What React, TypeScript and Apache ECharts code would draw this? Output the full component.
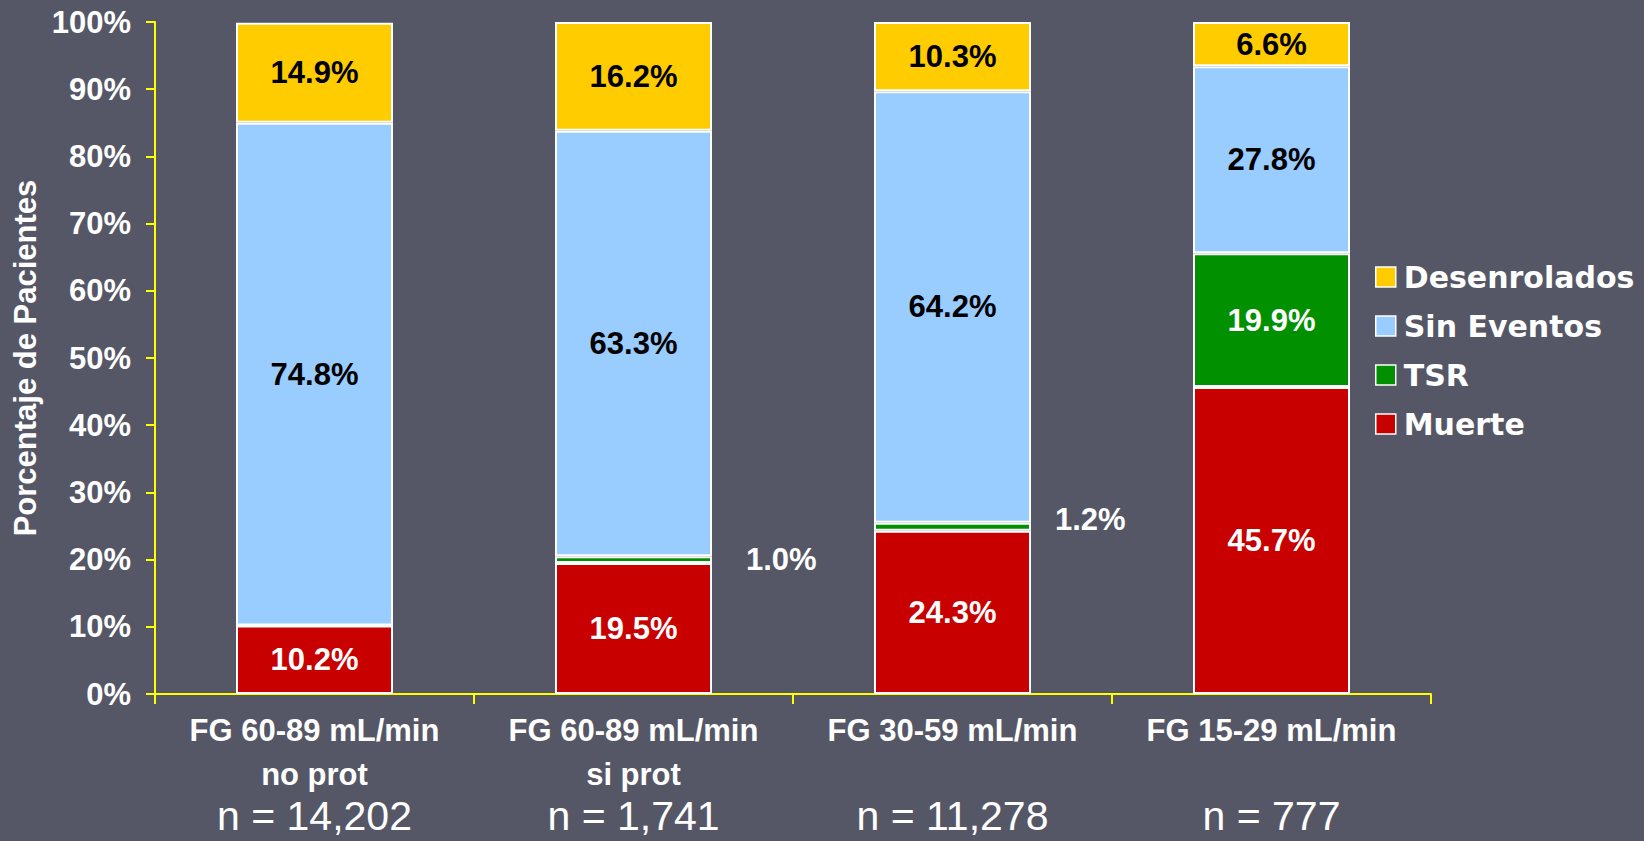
import React, { useEffect, useRef } from "react";
import * as echarts from "echarts";

const categories = ["FG 60-89 mL/min\nno prot", "FG 60-89 mL/min\nsi prot", "FG 30-59 mL/min", "FG 15-29 mL/min"];
const sampleSizes = ["n = 14,202", "n = 1,741", "n = 11,278", "n = 777"];
const muerte = [10.2, 19.5, 24.3, 45.7];
const tsr = [0, 1.0, 1.2, 19.9];
const sinEventos = [74.8, 63.3, 64.2, 27.8];
const desenrolados = [14.9, 16.2, 10.3, 6.6];
const legendOrder = ["Desenrolados", "Sin Eventos", "TSR", "Muerte"];

const FONT = "'Liberation Sans', Arial, sans-serif";

export default function App() {
  const ref = useRef<HTMLDivElement>(null);
  useEffect(() => {
    document.body.style.margin = "0";
    const chart = echarts.init(ref.current!, null, { renderer: "svg" });
    const labelBase = {
      show: true,
      position: "inside",
      fontFamily: FONT,
      fontWeight: "bold",
      fontSize: 31,
      formatter: (p: any) => Number(p.value).toFixed(1) + "%",
    };
    const border = { borderColor: "#ffffff", borderWidth: 2 };
    const tsrData = tsr.map((v, i) => {
      if (v === 0) return { value: v, label: { show: false } };
      if (v < 5)
        return {
          value: v,
          label: { show: true, position: "right", distance: i === 2 ? 24 : 34, offset: [0, i === 2 ? -7 : 0], color: "#ffffff" },
        };
      return { value: v };
    });
    chart.setOption({
      animation: false,
      backgroundColor: "#555766",
      grid: { left: 155, right: 213, top: 22, bottom: 147, outerBoundsMode: "none" },
      legend: {
        data: legendOrder,
        orient: "vertical",
        left: 1370,
        top: 257,
        itemWidth: 20,
        itemHeight: 20,
        itemGap: 19,
        icon: "rect",
        itemStyle: { borderColor: "#ffffff", borderWidth: 1.5 },
        textStyle: {
          color: "#ffffff",
          fontFamily: "'DejaVu Sans', Verdana, sans-serif",
          fontWeight: "bold",
          fontSize: 30,
          lineHeight: 30,
          padding: [0, 0, 0, 3],
        },
      },
      xAxis: {
        type: "category",
        data: categories,
        axisLine: { lineStyle: { color: "#ffff00", width: 2 } },
        axisTick: { show: true, length: 10, lineStyle: { color: "#ffff00", width: 2 } },
        axisLabel: {
          interval: 0,
          margin: 14,
          formatter: (v: string, i: number) => {
            const parts = v.split("\n");
            return `{b|${parts[0]}}\n{b|${parts[1] || " "}}\n{n|${sampleSizes[i]}}`;
          },
          rich: {
            b: { color: "#ffffff", fontFamily: FONT, fontWeight: "bold", fontSize: 31, lineHeight: 44 },
            n: { color: "#ffffff", fontFamily: FONT, fontSize: 41, lineHeight: 40 },
          },
        },
      },
      yAxis: {
        type: "value",
        min: 0,
        max: 100,
        interval: 10,
        name: "Porcentaje de Pacientes",
        nameLocation: "middle",
        nameRotate: 90,
        nameGap: 111,
        nameTextStyle: { color: "#ffffff", fontFamily: FONT, fontWeight: "bold", fontSize: 31 },
        axisLine: { show: true, lineStyle: { color: "#ffff00", width: 2 } },
        axisTick: { show: true, length: 9, lineStyle: { color: "#ffff00", width: 2 } },
        splitLine: { show: false },
        axisLabel: {
          margin: 24,
          color: "#ffffff",
          fontFamily: FONT,
          fontWeight: "bold",
          fontSize: 31,
          formatter: "{value}%",
        },
      },
      series: [
        {
          name: "Muerte",
          type: "bar",
          stack: "t",
          barWidth: 157,
          data: muerte,
          itemStyle: { color: "#c80000", ...border },
          label: { ...labelBase, color: "#ffffff" },
        },
        {
          name: "TSR",
          type: "bar",
          stack: "t",
          data: tsrData,
          itemStyle: { color: "#009000", ...border },
          label: { ...labelBase, color: "#ffffff" },
        },
        {
          name: "Sin Eventos",
          type: "bar",
          stack: "t",
          data: sinEventos,
          itemStyle: { color: "#99ccff", ...border },
          label: { ...labelBase, color: "#000000" },
        },
        {
          name: "Desenrolados",
          type: "bar",
          stack: "t",
          data: desenrolados,
          itemStyle: { color: "#ffcc00", ...border },
          label: { ...labelBase, color: "#000000" },
        },
      ],
    });
    return () => chart.dispose();
  }, []);
  return <div ref={ref} style={{ position: "absolute", left: 0, top: 0, width: 1644, height: 841 }} />;
}
